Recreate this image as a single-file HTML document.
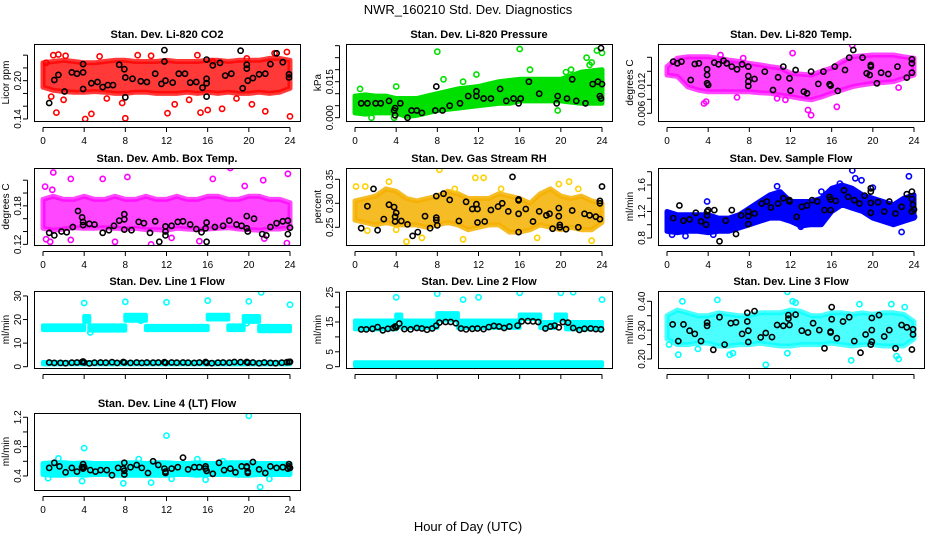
<!DOCTYPE html>
<html><head><meta charset="utf-8"><style>
html,body{margin:0;padding:0;background:#fff}
svg{display:block;font-family:"Liberation Sans",Arial,sans-serif}
</style></head><body>
<svg id="c" width="936" height="540" viewBox="0 0 936 540">
<rect width="936" height="540" fill="#fff"/>
<text x="468" y="14" text-anchor="middle" font-size="13">NWR_160210  Std. Dev. Diagnostics</text>
<text x="468" y="531" text-anchor="middle" font-size="13">Hour of Day (UTC)</text>
</svg>
<script>
const xTicks=[0,4,8,12,16,20,24];
const bandHours=[0,1,2,3,4,5,6,7,8,9,10,11,12,13,14,15,16,17,18,19,20,21,22,23,24];

// CO2
const co2Hi=[0.228,0.23,0.232,0.23,0.228,0.228,0.23,0.232,0.232,0.23,0.23,0.23,0.232,0.23,0.23,0.23,0.232,0.232,0.23,0.232,0.232,0.232,0.235,0.235,0.232];
const co2Lo=[0.19,0.185,0.183,0.182,0.182,0.183,0.182,0.18,0.18,0.182,0.182,0.18,0.18,0.18,0.182,0.18,0.182,0.18,0.182,0.18,0.18,0.182,0.18,0.182,0.188];
const co2Out=[[1.3,0.15],[4.1,0.14],[4.7,0.148],[8,0.141],[12.1,0.149],[15.3,0.15],[16,0.154],[17.4,0.156],[21.6,0.152],[24,0.144],[0.3,0.228],[1,0.24],[1.5,0.241],[2.2,0.239],[5.5,0.238],[9.2,0.24],[10.5,0.239],[15,0.24],[16.5,0.23],[19.8,0.235],[22.5,0.243],[23.7,0.245],[7.7,0.165],[2,0.17],[12.8,0.163],[20.3,0.163],[0.8,0.175],[6.2,0.172],[14.2,0.17],[18.8,0.172]];
const co2Black=[[0.6,0.165],[1.1,0.201],[1.5,0.209],[2.1,0.183],[2.8,0.213],[3.3,0.211],[3.9,0.226],[3.9,0.213],[3.9,0.187],[4.7,0.196],[5.3,0.198],[5.8,0.19],[6.3,0.193],[6.8,0.193],[7.4,0.225],[7.9,0.218],[8,0.174],[8,0.205],[8.7,0.203],[9.5,0.199],[10.1,0.198],[10.9,0.211],[11.5,0.195],[11.8,0.23],[11.8,0.248],[11.9,0.2],[12.6,0.197],[13.2,0.211],[13.8,0.211],[14.3,0.197],[14.9,0.198],[15.5,0.189],[15.9,0.203],[15.9,0.233],[15.9,0.196],[15.9,0.175],[16.5,0.224],[17.2,0.228],[17.7,0.208],[18.3,0.211],[19.2,0.247],[19.4,0.188],[19.8,0.225],[19.8,0.219],[19.9,0.2],[20.4,0.204],[21,0.21],[21.6,0.211],[22.1,0.226],[22.7,0.243],[23.3,0.229],[23.9,0.205],[23.9,0.21]];

// Pressure
const prHi=[0.009,0.0095,0.009,0.009,0.008,0.008,0.008,0.009,0.010,0.011,0.012,0.0125,0.013,0.014,0.015,0.0155,0.016,0.016,0.016,0.016,0.016,0.0175,0.019,0.0195,0.020];
const prLo=[0.002,0.0015,0.002,0.002,0.002,0.0005,0.001,0.002,0.003,0.0035,0.004,0.0045,0.005,0.0055,0.006,0.006,0.007,0.007,0.007,0.007,0.007,0.0065,0.006,0.006,0.006];
const prOut=[[1.6,0],[3.8,0],[8,0.0275],[16,0.0286],[22.5,0.025],[23,0.023],[23.5,0.028],[24,0.027],[21,0.02],[20.5,0.019],[17,0.02],[10.5,0.015],[11.8,0.018],[0.5,0.012],[4,0.013],[19.7,0.003],[22.8,0.022],[8.6,0.016]];
const prBlack=[[0.6,0.006],[1.2,0.006],[2,0.006],[2.5,0.006],[3.3,0.007],[3.8,0.003],[3.9,0.001],[3.9,0.004],[4.4,0.006],[5.1,0],[5.5,0.003],[6,0.003],[6.5,0.002],[7.8,0.003],[7.9,0.013],[8.5,0.003],[9.2,0.005],[10.2,0.006],[11,0.009],[11.8,0.009],[11.8,0.011],[12.5,0.008],[13.2,0.008],[14.1,0.012],[14.7,0.007],[15.4,0.008],[15.9,0.006],[16.1,0.008],[16.9,0.015],[17.9,0.01],[19.6,0.006],[19.7,0.009],[20.6,0.008],[21.1,0.016],[21.5,0.007],[22.4,0.006],[23.1,0.014],[23.6,0.015],[23.8,0.009],[23.9,0.008],[23.9,0.029],[24,0.014]];

// Li-820 Temp
const ltHi=[0.0160,0.0178,0.0181,0.0181,0.0181,0.0178,0.0174,0.0171,0.0167,0.0164,0.0160,0.0157,0.0146,0.0144,0.0142,0.0150,0.0157,0.0171,0.0181,0.0183,0.0185,0.0185,0.0185,0.0181,0.0178];
const ltLo=[0.0142,0.0139,0.0117,0.0110,0.0106,0.0106,0.0106,0.0106,0.0106,0.0104,0.0103,0.0099,0.0096,0.0092,0.0089,0.0095,0.0103,0.0110,0.0117,0.0121,0.0124,0.0126,0.0128,0.0135,0.0142];
const ltOut=[[3.8,0.0085],[13.7,0.0067],[14,0.0056],[16.5,0.0074],[18,0.0206],[11.5,0.0089],[10.7,0.0092],[3.6,0.0081],[12.2,0.0189],[5.2,0.0185],[7.4,0.0178],[6.8,0.0094],[22.5,0.0115]];
const ltBlack=[[0.6,0.01707],[1,0.01671],[1.4,0.01707],[2.3,0.01314],[2.7,0.01657],[3.1,0.01671],[3.9,0.01543],[3.9,0.01421],[3.9,0.01243],[4,0.01207],[4.6,0.01686],[5,0.0165],[5.5,0.01728],[5.8,0.01671],[6.3,0.016],[6.8,0.01543],[7.3,0.0165],[7.9,0.016],[7.9,0.014],[7.9,0.01279],[7.9,0.01186],[8.5,0.01336],[9.5,0.01493],[10.3,0.011],[10.8,0.01371],[11.3,0.016],[11.9,0.0135],[12,0.01086],[12.5,0.01528],[13.3,0.01064],[13.6,0.01029],[14,0.01493],[14.7,0.01229],[15.2,0.01493],[15.8,0.01221],[15.9,0.01193],[16.3,0.016],[16.6,0.01079],[17.3,0.01528],[17.7,0.01793],[18.1,0.01957],[19,0.01793],[19.4,0.01457],[19.7,0.01421],[19.8,0.016],[19.8,0.01636],[20.4,0.01243],[20.8,0.01471],[21.5,0.01443],[22.4,0.016],[23.3,0.01364],[23.8,0.01471],[23.8,0.01671],[23.8,0.01757]];

// Amb Box Temp
const abHi=[0.19,0.195,0.19,0.19,0.195,0.19,0.19,0.195,0.19,0.19,0.195,0.19,0.19,0.195,0.19,0.19,0.195,0.195,0.19,0.19,0.195,0.195,0.19,0.19,0.185];
const abLo=[0.145,0.142,0.144,0.146,0.145,0.145,0.146,0.145,0.144,0.145,0.143,0.143,0.142,0.145,0.144,0.143,0.144,0.145,0.146,0.144,0.143,0.142,0.144,0.144,0.146];
const abOut=[[0.2,0.21],[0.9,0.205],[1,0.232],[2.7,0.222],[0.3,0.128],[0.7,0.124],[2.7,0.127],[7,0.124],[10.5,0.12],[15.2,0.125],[18.2,0.239],[19.6,0.211],[23.8,0.23],[23.7,0.122],[21.4,0.22],[8.2,0.225],[5.8,0.222],[16.5,0.222],[12.5,0.13],[21.5,0.129]];
const abBlack=[[0.6,0.138],[1.1,0.134],[1.8,0.14],[2.3,0.139],[2.9,0.147],[3.4,0.172],[3.8,0.162],[3.9,0.155],[3.9,0.15],[4.5,0.152],[5,0.151],[5.8,0.138],[6.4,0.142],[6.9,0.149],[7.4,0.157],[7.9,0.159],[7.9,0.167],[7.9,0.143],[8.6,0.142],[9.3,0.155],[9.8,0.153],[10.4,0.138],[10.9,0.156],[11.3,0.124],[11.9,0.148],[11.9,0.14],[11.9,0.134],[12.5,0.149],[13.1,0.155],[13.6,0.156],[14.3,0.151],[14.9,0.144],[15.4,0.139],[15.8,0.145],[15.9,0.154],[15.9,0.124],[16.7,0.147],[17.5,0.149],[18.1,0.157],[18.8,0.151],[19.3,0.149],[19.8,0.164],[19.8,0.145],[19.9,0.14],[20.5,0.16],[21.3,0.136],[21.7,0.134],[22.1,0.147],[22.7,0.153],[23.3,0.156],[23.8,0.157],[23.8,0.136],[24,0.146]];

// Gas Stream RH
const rhHi=[0.305,0.31,0.315,0.33,0.325,0.31,0.305,0.31,0.315,0.325,0.32,0.31,0.31,0.31,0.32,0.315,0.31,0.30,0.32,0.33,0.315,0.31,0.315,0.305,0.30];
const rhLo=[0.265,0.26,0.255,0.26,0.255,0.255,0.255,0.25,0.255,0.26,0.255,0.245,0.25,0.255,0.255,0.24,0.24,0.245,0.255,0.25,0.245,0.25,0.245,0.245,0.26];
const rhOut=[[0.1,0.335],[1,0.335],[3.3,0.345],[4,0.245],[5,0.22],[8.2,0.37],[11.7,0.353],[12.5,0.353],[17.7,0.228],[20.8,0.345],[23,0.222],[10.5,0.225],[6.5,0.228],[21.7,0.33],[19.8,0.34],[1.2,0.243],[9.7,0.33],[14.2,0.33]];
const rhBlack=[[0.6,0.248],[1.2,0.294],[1.8,0.33],[2.2,0.244],[2.8,0.267],[3.3,0.297],[3.8,0.292],[3.9,0.272],[3.9,0.262],[4,0.28],[4.5,0.263],[5.1,0.256],[5.6,0.232],[6.1,0.24],[6.8,0.273],[7.3,0.248],[7.9,0.315],[7.9,0.27],[7.9,0.265],[8,0.254],[8.6,0.32],[9.2,0.307],[10.1,0.263],[10.8,0.303],[11.4,0.288],[11.8,0.298],[11.9,0.288],[11.9,0.26],[12.6,0.262],[13.2,0.286],[13.9,0.293],[14.3,0.3],[14.9,0.283],[15.3,0.355],[15.9,0.308],[15.9,0.306],[15.9,0.278],[15.9,0.24],[16.6,0.288],[17.3,0.262],[17.9,0.283],[18.6,0.275],[18.9,0.278],[19.2,0.247],[19.8,0.29],[19.8,0.273],[19.9,0.255],[19.9,0.25],[20.5,0.246],[21.1,0.285],[21.7,0.25],[22.3,0.278],[22.8,0.275],[23.4,0.272],[23.8,0.267],[23.8,0.305],[23.8,0.3],[24,0.335]];

// Sample Flow
const sfHi=[1.2,1.15,1.15,1.15,1.15,1.1,1.1,1.15,1.25,1.35,1.45,1.5,1.35,1.35,1.35,1.4,1.55,1.6,1.55,1.45,1.4,1.35,1.3,1.4,1.45];
const sfLo=[0.9,0.88,0.9,0.9,0.88,0.9,0.9,0.95,1.0,1.05,1.1,1.1,1.05,0.98,1.0,1.0,1.2,1.3,1.25,1.2,1.1,1.05,1.0,1.05,1.1];
const sfOut=[[0.5,0.85],[1.8,0.83],[3.9,1.35],[10.7,1.58],[15,1.5],[18,1.82],[18.3,1.7],[18.9,1.67],[20,1.56],[22.8,0.89],[23.5,1.73],[24,1.12],[16.8,1.62],[13,0.97],[4.5,0.85]];
const sfBlack=[[0.6,1.1],[1.2,1.29],[1.6,1.06],[2.2,1.08],[2.8,1.18],[3.3,1.05],[3.8,1.0],[3.9,1.14],[3.9,1.2],[4,1.22],[4.6,1.22],[5.1,0.75],[5.7,1.06],[6.3,1.22],[6.7,0.86],[7.2,1.14],[7.9,1.2],[7.9,1.13],[7.9,1.01],[8.5,1.17],[9.2,1.32],[9.7,1.35],[10.1,1.26],[10.8,1.32],[11.3,1.4],[11.9,1.37],[11.9,1.35],[12.6,1.12],[13.1,1.27],[13.6,1.29],[14.1,1.37],[14.6,1.35],[15.3,1.22],[15.8,1.42],[15.9,1.38],[15.9,1.22],[16.4,1.36],[17.2,1.52],[17.6,1.42],[18.2,1.37],[18.7,1.32],[19.2,1.44],[19.8,1.5],[19.8,1.55],[19.8,1.33],[19.8,1.18],[20.5,1.34],[21.1,1.2],[21.6,1.35],[22.2,1.17],[22.8,1.27],[23.3,1.46],[23.8,1.2],[23.8,1.5],[23.8,1.39],[23.9,1.3],[24,1.23]];

// Line 1 Flow (segments: start hour, end hour, low, high)
const l1Segs=[[0,4,15.5,17.5],[4,4.5,19,21.5],[4.5,8,15.3,17.5],[8,10,19.5,22],[10,16,15.5,17.3],[16,18,20,22],[18,19.5,15.5,17.5],[19.5,21,19,21.5],[21,24,15,17.3],[0,24,1.0,2.0]];
const l1Out=[[4,27],[8,27.5],[12,27.3],[16,28],[20,27.7],[21.2,31.5],[24,26.3],[19.8,18.5],[4.6,14.5],[9.5,19.5]];
const l1Black=[[0.6,1.8],[1.1,1.6],[1.7,1.6],[2.2,1.5],[2.8,1.7],[3.3,1.8],[3.8,2.0],[3.9,2.2],[4,1.8],[4.5,1.4],[5,1.7],[5.6,1.8],[6.1,1.7],[6.7,1.9],[7.2,1.6],[7.8,2.0],[7.9,1.8],[8.5,1.6],[9.1,1.8],[9.6,1.6],[10.1,1.8],[10.7,1.7],[11.2,1.8],[11.8,1.9],[11.9,1.6],[12.5,1.8],[13,1.7],[13.6,1.8],[14.1,1.7],[14.7,1.6],[15.2,1.8],[15.8,2.0],[15.9,1.6],[16.4,1.5],[17,1.7],[17.5,1.8],[18.1,1.7],[18.6,2.0],[19.2,1.9],[19.8,2.0],[19.9,1.7],[20.4,1.8],[21,1.5],[21.5,1.8],[22.1,1.6],[22.6,1.5],[23.2,1.7],[23.7,1.9],[23.9,2.0],[24,2.1]];

// Line 2 Flow
const l2Segs=[[0,4,12.5,15.5],[4,4.5,16,17.5],[4.5,8,13,15.5],[8,10,15.5,18],[10,16,13,15.5],[16,18,16,17.5],[18,19.5,13,15],[19.5,20.5,15.5,17.5],[20.5,24,12.5,15],[0,24,0.2,1.5]];
const l2Out=[[4,23.3],[8,24.5],[10.5,22.5],[12,23.3],[16,24.8],[20,24.8],[21.2,25],[24,22.5]];
const l2Black=[[0.6,12.5],[1.1,12.5],[1.7,12.7],[2.2,13.3],[2.7,12.2],[3.2,12.7],[3.7,13.0],[3.9,13.5],[4,13.2],[4.3,14.5],[4.8,12.6],[5.4,12.5],[6,13.0],[6.5,12.8],[7,12.4],[7.5,12.8],[7.9,13.8],[8.2,14.8],[8.8,15.0],[9.3,15.0],[9.8,14.6],[10.3,12.8],[10.8,12.5],[11.4,12.7],[11.9,12.8],[12.5,12.6],[13,13.3],[13.5,13.7],[14,13.5],[14.5,13.0],[15,13.5],[15.8,13.8],[16.2,15.2],[16.8,15.3],[17.3,15.2],[17.8,15.0],[18.5,12.8],[19,13.5],[19.4,13.8],[19.8,13.2],[20.2,15.0],[20.7,14.8],[21.2,13.0],[21.8,12.3],[22.3,12.7],[22.9,12.8],[23.4,12.6],[23.9,12.5]];

// Line 3 Flow
const l3Hi=[0.35,0.37,0.36,0.35,0.35,0.36,0.355,0.35,0.35,0.36,0.36,0.36,0.37,0.365,0.35,0.35,0.36,0.36,0.355,0.36,0.355,0.36,0.36,0.355,0.33];
const l3Lo=[0.27,0.25,0.25,0.255,0.255,0.245,0.245,0.25,0.25,0.255,0.25,0.245,0.245,0.25,0.25,0.25,0.255,0.25,0.245,0.25,0.25,0.245,0.245,0.245,0.27];
const l3Out=[[1.5,0.4],[1.1,0.215],[4.9,0.405],[6.1,0.215],[9.6,0.18],[11.7,0.433],[11.7,0.22],[12.2,0.4],[12.5,0.395],[17.9,0.195],[18.7,0.39],[22.3,0.21],[22.5,0.2],[21.8,0.39],[23.1,0.38],[6.4,0.22],[0.2,0.25],[3,0.235]];
const l3Black=[[0.55,0.32],[1.1,0.262],[1.6,0.32],[2.2,0.298],[2.7,0.287],[3.3,0.262],[3.9,0.315],[3.9,0.326],[4.5,0.232],[5.1,0.345],[5.6,0.25],[6.2,0.324],[6.7,0.327],[7.3,0.287],[7.8,0.36],[7.8,0.33],[7.9,0.298],[7.9,0.259],[8.5,0.366],[9.1,0.275],[9.6,0.29],[10.2,0.276],[10.7,0.318],[11.3,0.315],[11.8,0.34],[11.8,0.352],[11.9,0.318],[12.5,0.354],[13.1,0.298],[13.7,0.292],[14.2,0.324],[14.8,0.3],[15.3,0.237],[15.9,0.295],[15.9,0.292],[16,0.338],[16,0.38],[16.5,0.272],[17.1,0.33],[17.7,0.345],[18.2,0.262],[18.8,0.222],[19.3,0.285],[19.8,0.25],[19.9,0.26],[19.9,0.3],[19.9,0.342],[20.6,0.352],[21.1,0.278],[21.6,0.3],[22.2,0.237],[22.8,0.318],[23.3,0.31],[23.8,0.233],[23.9,0.285],[23.9,0.303]];

// Line 4 Flow
const l4Hi=[0.57,0.58,0.58,0.57,0.58,0.57,0.57,0.57,0.58,0.58,0.57,0.58,0.58,0.57,0.57,0.58,0.57,0.57,0.58,0.58,0.58,0.57,0.57,0.57,0.57];
const l4Lo=[0.42,0.41,0.41,0.42,0.41,0.42,0.42,0.41,0.41,0.41,0.41,0.41,0.41,0.42,0.42,0.41,0.42,0.42,0.42,0.41,0.41,0.42,0.42,0.42,0.42];
const l4Out=[[4,0.78],[12,0.95],[20,1.22],[21.1,0.25],[7.8,0.3],[3.8,0.33],[10.5,0.31],[1.5,0.64],[9.3,0.63],[15,0.63],[17.5,0.6],[12.5,0.36],[15.8,0.35],[22,0.36],[0.5,0.37]];
const l4Black=[[0.6,0.51],[1.1,0.58],[1.6,0.53],[2.2,0.45],[2.8,0.51],[3.3,0.46],[3.8,0.52],[3.9,0.56],[3.9,0.5],[4,0.52],[4.6,0.48],[5.1,0.46],[5.6,0.48],[6.2,0.48],[6.7,0.41],[7.3,0.51],[7.8,0.5],[7.9,0.58],[7.9,0.47],[7.9,0.42],[8.5,0.52],[9.1,0.55],[9.6,0.51],[10.2,0.44],[10.7,0.6],[11.2,0.55],[11.8,0.5],[11.9,0.46],[11.9,0.44],[12.5,0.5],[13.1,0.52],[13.6,0.65],[14.1,0.49],[14.7,0.52],[15.2,0.52],[15.8,0.53],[15.8,0.5],[15.9,0.47],[16.5,0.43],[17.1,0.58],[17.6,0.48],[18.2,0.5],[18.7,0.45],[19.3,0.53],[19.8,0.53],[19.8,0.52],[19.9,0.46],[19.9,0.44],[20.4,0.59],[21,0.49],[21.6,0.44],[22.1,0.53],[22.7,0.51],[23.3,0.52],[23.8,0.5],[23.9,0.53],[23.9,0.56],[24,0.51]];

const NS="http://www.w3.org/2000/svg";
const svg=document.getElementById('c');
function mk(tag,attrs,parent){const e=document.createElementNS(NS,tag);for(const k in attrs)e.setAttribute(k,attrs[k]);(parent||svg).appendChild(e);return e;}

const colL=[34,346,658], rowT=[44,168,291,413], W=266, H=77;
const panels=[
 {id:'co2',title:'Stan. Dev. Li-820 CO2',yt:'Licor ppm',c:0,r:0,dom:[0.1368,0.2575],ticks:[0.14,0.16,0.18,0.20,0.22,0.24],labels:['0.14','','','0.20','',''],col:'#ff0000',hi:co2Hi,lo:co2Lo,out:co2Out,blk:co2Black,op:0.78,xl:true},
 {id:'pressure',title:'Stan. Dev. Li-820 Pressure',yt:'kPa',c:1,r:0,dom:[-0.00138,0.0307],ticks:[0,0.005,0.010,0.015,0.020,0.025,0.030],labels:['0.000','','','0.015','','',''],col:'#00e000',hi:prHi,lo:prLo,out:prOut,blk:prBlack,op:1,xl:true},
 {id:'li820-temp',title:'Stan. Dev. Li-820 Temp.',yt:'degrees C',c:2,r:0,dom:[0.00435,0.02085],ticks:[0.006,0.009,0.012,0.015,0.018],labels:['0.006','','0.012','',''],col:'#ff00ff',hi:ltHi,lo:ltLo,out:ltOut,blk:ltBlack,op:0.72,xl:true},
 {id:'amb-box-temp',title:'Stan. Dev. Amb. Box Temp.',yt:'degrees C',c:0,r:1,dom:[0.119,0.239],ticks:[0.12,0.14,0.16,0.18,0.20,0.22],labels:['0.12','','','0.18','',''],col:'#ff00ff',hi:abHi,lo:abLo,out:abOut,blk:abBlack,op:0.72,xl:true},
 {id:'gas-stream-rh',title:'Stan. Dev. Gas Stream RH',yt:'percent',c:1,r:1,dom:[0.2131,0.3735],ticks:[0.25,0.30,0.35],labels:['0.25','0.30','0.35'],col:'#f5b000',ocol:'#ffd000',hi:rhHi,lo:rhLo,out:rhOut,blk:rhBlack,op:0.85,xl:true},
 {id:'sample-flow',title:'Stan. Dev. Sample Flow',yt:'ml/min',c:2,r:1,dom:[0.694,1.856],ticks:[0.8,1.0,1.2,1.4,1.6,1.8],labels:['0.8','','1.2','','1.6',''],col:'#0000ff',hi:sfHi,lo:sfLo,out:sfOut,blk:sfBlack,op:1,xl:true},
 {id:'line1-flow',title:'Stan. Dev. Line 1 Flow',yt:'ml/min',c:0,r:2,dom:[-0.55,32.1],ticks:[0,10,20,30],labels:['0','10','20','30'],col:'#00ffff',segs:l1Segs,out:l1Out,blk:l1Black,op:1,xl:false},
 {id:'line2-flow',title:'Stan. Dev. Line 2 Flow',yt:'ml/min',c:1,r:2,dom:[-0.44,25.4],ticks:[0,5,10,15,20,25],labels:['0','5','','15','','25'],col:'#00ffff',segs:l2Segs,out:l2Out,blk:l2Black,op:1,xl:false},
 {id:'line3-flow',title:'Stan. Dev. Line 3 Flow',yt:'ml/min',c:2,r:2,dom:[0.1688,0.4357],ticks:[0.20,0.25,0.30,0.35,0.40],labels:['0.20','','0.30','','0.40'],col:'#00ffff',hi:l3Hi,lo:l3Lo,out:l3Out,blk:l3Black,op:0.7,xl:false},
 {id:'line4-flow',title:'Stan. Dev. Line 4 (LT) Flow',yt:'ml/min',c:0,r:3,dom:[0.209,1.258],ticks:[0.4,0.6,0.8,1.0,1.2],labels:['0.4','','0.8','','1.2'],col:'#00ffff',hi:l4Hi,lo:l4Lo,out:l4Out,blk:l4Black,op:1,xl:true}
];

function circ(g,x,y,col,name){
  const e=mk('circle',{cx:x.toFixed(1),cy:y.toFixed(1),r:2.6,fill:'none',stroke:col,'stroke-width':1.6},g);
  
  
}

panels.forEach(p=>{
  const L=colL[p.c],T=rowT[p.r],B=T+H;
  const X=h=>L+9+h*(247/24);
  const Y=v=>B-(v-p.dom[0])/(p.dom[1]-p.dom[0])*H;
  const g=mk('g',{});
  
  
  const t=mk('text',{x:L+W/2,y:T-6,'text-anchor':'middle','font-size':11,'font-weight':'bold'},g);
  t.textContent=p.title;
  
  
  const cg=mk('g',{'clip-path':'url(#clip-'+p.id+')'},g);
  const cp=mk('clipPath',{id:'clip-'+p.id},g);
  mk('rect',{x:L,y:T,width:W,height:H},cp);
  if(p.hi){
    let d='M'+bandHours.map((h,i)=>X(h).toFixed(1)+','+Y(p.hi[i]).toFixed(1)).join('L');
    for(let i=bandHours.length-1;i>=0;i--) d+='L'+X(bandHours[i]).toFixed(1)+','+Y(p.lo[i]).toFixed(1);
    const band=mk('path',{d:d+'Z',fill:p.col,'fill-opacity':p.op,stroke:p.col,'stroke-width':5,'stroke-linejoin':'round','stroke-opacity':p.op},cg);
    
    
  }
  if(p.segs){
    p.segs.forEach((s,i)=>{
      const r=mk('rect',{x:X(s[0]).toFixed(1),y:Y(s[3]).toFixed(1),width:(X(s[1])-X(s[0])).toFixed(1),height:(Y(s[2])-Y(s[3])).toFixed(1),fill:p.col,stroke:p.col,'stroke-width':4,'stroke-linejoin':'round'},cg);
      
      
    });
  }
  p.out.forEach(o=>circ(cg,X(o[0]),Y(o[1]),p.ocol||p.col,p.id+'-point'));
  p.blk.forEach(o=>circ(cg,X(o[0]),Y(o[1]),'#000',p.id+'-hourly-point'));
  const box=mk('rect',{x:L+0.5,y:T+0.5,width:W,height:H,fill:'none',stroke:'#000','stroke-width':1},g);
  
  
  mk('line',{x1:X(0),x2:X(24),y1:B+6.5,y2:B+6.5,stroke:'#000'},g);
  xTicks.forEach(h=>{
    mk('line',{x1:X(h),x2:X(h),y1:B+6.5,y2:B+11,stroke:'#000'},g);
    if(p.xl){
      const tx=mk('text',{x:X(h),y:B+23,'text-anchor':'middle','font-size':10},g);
      tx.textContent=h;
      
      
    }
  });
  const t0=p.ticks[0],t1=p.ticks[p.ticks.length-1];
  mk('line',{x1:L-6.5,x2:L-6.5,y1:Y(t0),y2:Y(t1),stroke:'#000'},g);
  p.ticks.forEach((v,i)=>{
    const y=Y(v);
    mk('line',{x1:L-11,x2:L-6.5,y1:y,y2:y,stroke:'#000'},g);
    if(p.labels[i]){
      const ty=mk('text',{x:L-13,y:y,'text-anchor':'middle','font-size':10,transform:'rotate(-90 '+(L-13)+' '+y+')'},g);
      ty.textContent=p.labels[i];
      
      
    }
  });
  const yt=mk('text',{x:L-25,y:T+H/2,'text-anchor':'middle','font-size':10,transform:'rotate(-90 '+(L-25)+' '+(T+H/2)+')'},g);
  yt.textContent=p.yt;
  
  
});
</script>
</body></html>
